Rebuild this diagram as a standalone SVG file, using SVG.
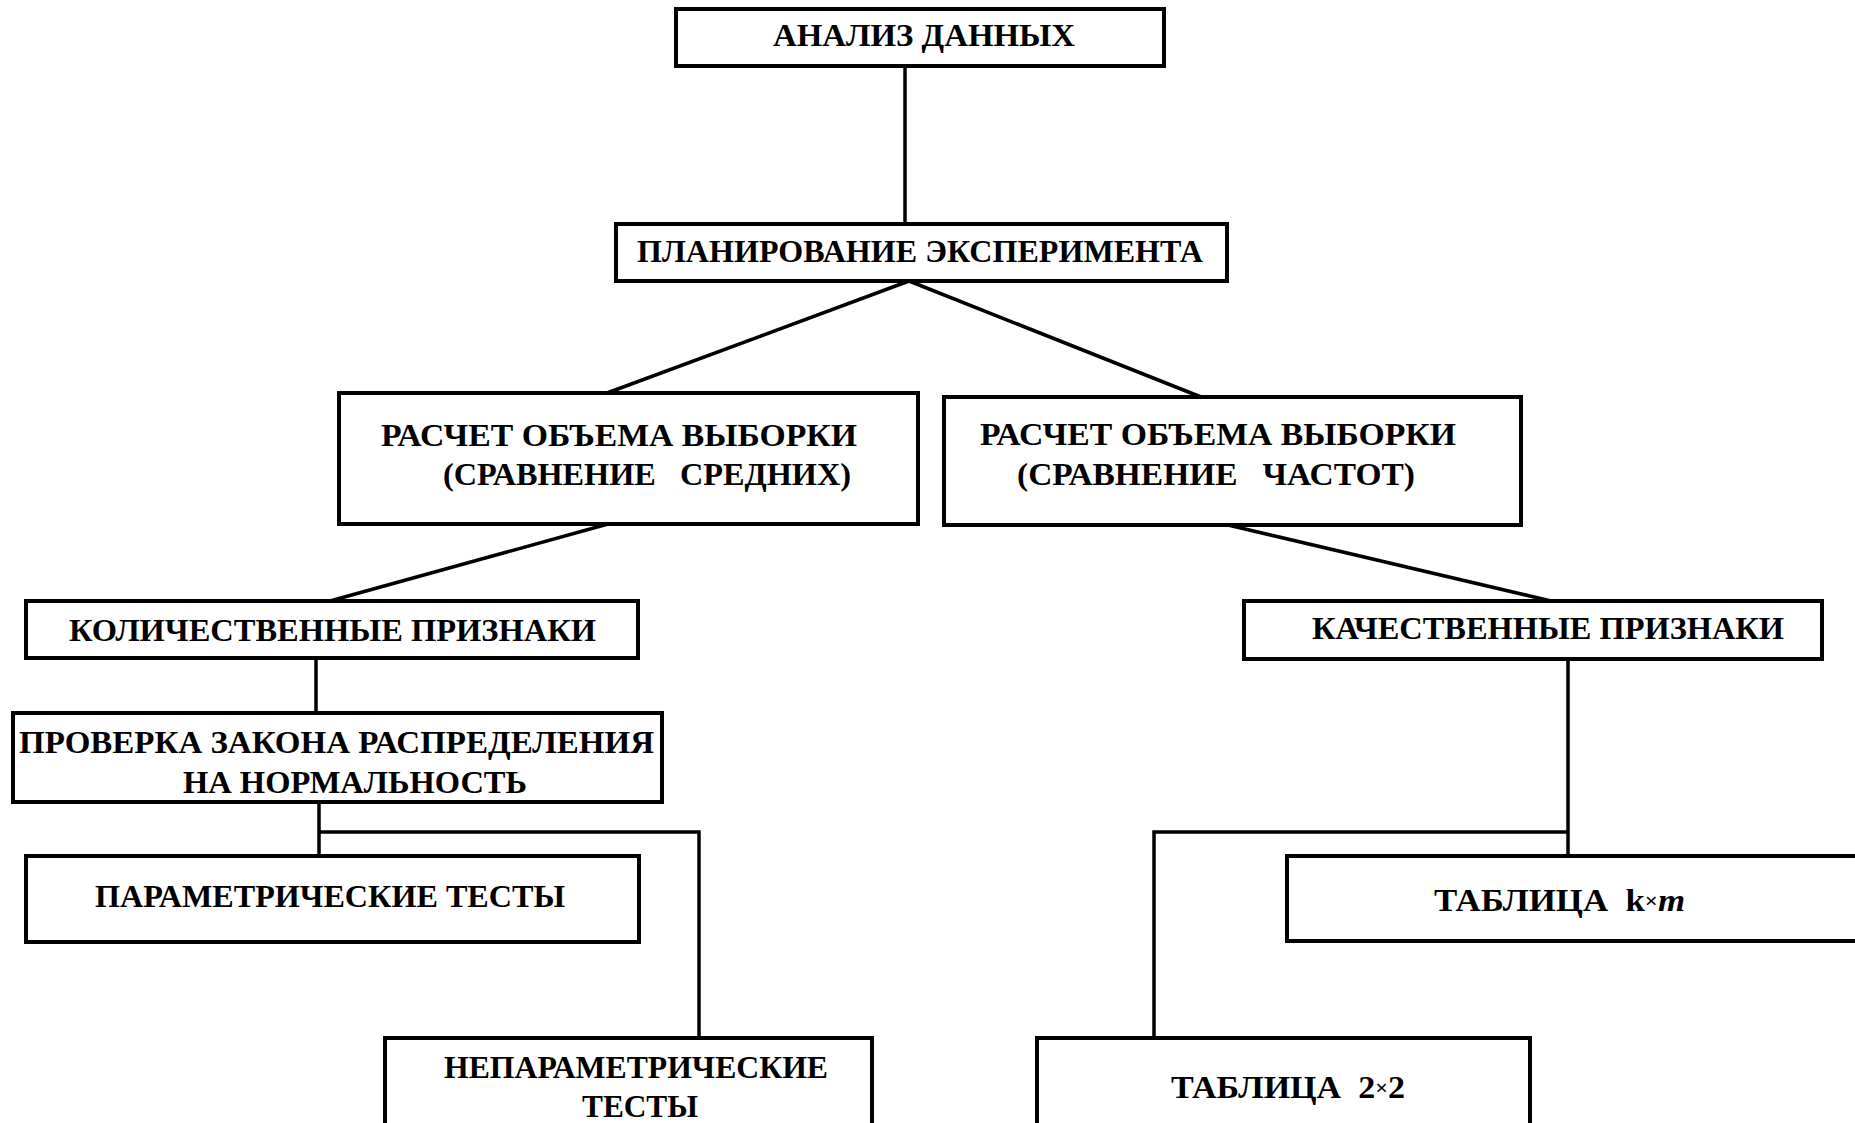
<svg xmlns="http://www.w3.org/2000/svg" width="1855" height="1123" viewBox="0 0 1855 1123">
<style>
.box{fill:#fff;stroke:#000;stroke-width:4}
.ln{fill:none;stroke:#000;stroke-width:3.5}
text{font-family:"Liberation Serif","Times New Roman",serif;font-weight:bold;font-size:32px;fill:#000;white-space:pre}
.x{font-size:21px}
</style>
<rect width="1855" height="1123" fill="#fff"/>
<g id="connectors">
<line class="ln" x1="905" y1="66" x2="905" y2="224"/>
<line class="ln" x1="909" y1="281" x2="607" y2="393"/>
<line class="ln" x1="909" y1="281" x2="1201" y2="397"/>
<line class="ln" x1="608" y1="524" x2="330" y2="601"/>
<line class="ln" x1="1228" y1="525" x2="1551" y2="601"/>
<line class="ln" x1="316" y1="658" x2="316" y2="713"/>
<line class="ln" x1="319" y1="802" x2="319" y2="856"/>
<polyline class="ln" points="319,832 699,832 699,1038"/>
<line class="ln" x1="1568" y1="659" x2="1568" y2="856"/>
<polyline class="ln" points="1568,832 1154,832 1154,1038"/>
</g>
<g id="n-analiz">
<rect class="box" x="676" y="9" width="488" height="57"/>
<text x="773" y="46" textLength="302" lengthAdjust="spacingAndGlyphs">АНАЛИЗ ДАННЫХ</text>
</g>
<g id="n-plan">
<rect class="box" x="616" y="224" width="611" height="57"/>
<text x="637" y="262" textLength="566" lengthAdjust="spacingAndGlyphs">ПЛАНИРОВАНИЕ ЭКСПЕРИМЕНТА</text>
</g>
<g id="n-sred">
<rect class="box" x="339" y="393" width="579" height="131"/>
<text x="381" y="446" textLength="476" lengthAdjust="spacingAndGlyphs">РАСЧЕТ ОБЪЕМА ВЫБОРКИ</text>
<text x="443" y="485" textLength="408" lengthAdjust="spacingAndGlyphs">(СРАВНЕНИЕ   СРЕДНИХ)</text>
</g>
<g id="n-chast">
<rect class="box" x="944" y="397" width="577" height="128"/>
<text x="980" y="445" textLength="476" lengthAdjust="spacingAndGlyphs">РАСЧЕТ ОБЪЕМА ВЫБОРКИ</text>
<text x="1017" y="485" textLength="398" lengthAdjust="spacingAndGlyphs">(СРАВНЕНИЕ   ЧАСТОТ)</text>
</g>
<g id="n-kolich">
<rect class="box" x="26" y="601" width="612" height="57"/>
<text x="69" y="641" textLength="527" lengthAdjust="spacingAndGlyphs">КОЛИЧЕСТВЕННЫЕ ПРИЗНАКИ</text>
</g>
<g id="n-kach">
<rect class="box" x="1244" y="601" width="578" height="58"/>
<text x="1312" y="639" textLength="472" lengthAdjust="spacingAndGlyphs">КАЧЕСТВЕННЫЕ ПРИЗНАКИ</text>
</g>
<g id="n-prov">
<rect class="box" x="13" y="713" width="649" height="89"/>
<text x="19" y="753" textLength="635" lengthAdjust="spacingAndGlyphs">ПРОВЕРКА ЗАКОНА РАСПРЕДЕЛЕНИЯ</text>
<text x="183" y="793" textLength="344" lengthAdjust="spacingAndGlyphs">НА НОРМАЛЬНОСТЬ</text>
</g>
<g id="n-param">
<rect class="box" x="26" y="856" width="613" height="86"/>
<text x="95" y="907" textLength="470" lengthAdjust="spacingAndGlyphs">ПАРАМЕТРИЧЕСКИЕ ТЕСТЫ</text>
</g>
<g id="n-neparam">
<rect class="box" x="385" y="1038" width="487" height="110"/>
<text x="444" y="1078" textLength="384" lengthAdjust="spacingAndGlyphs">НЕПАРАМЕТРИЧЕСКИЕ</text>
<text x="582" y="1117" textLength="116" lengthAdjust="spacingAndGlyphs">ТЕСТЫ</text>
</g>
<g id="n-kxm">
<rect class="box" x="1287" y="856" width="600" height="85"/>
<text x="1434" y="911" textLength="251" lengthAdjust="spacingAndGlyphs">ТАБЛИЦА  k<tspan class="x" dy="-3">×</tspan><tspan dy="3" font-style="italic">m</tspan></text>
</g>
<g id="n-2x2">
<rect class="box" x="1037" y="1038" width="493" height="110"/>
<text x="1171" y="1098" textLength="234" lengthAdjust="spacingAndGlyphs">ТАБЛИЦА  2<tspan class="x" dy="-3">×</tspan><tspan dy="3">2</tspan></text>
</g>
</svg>
